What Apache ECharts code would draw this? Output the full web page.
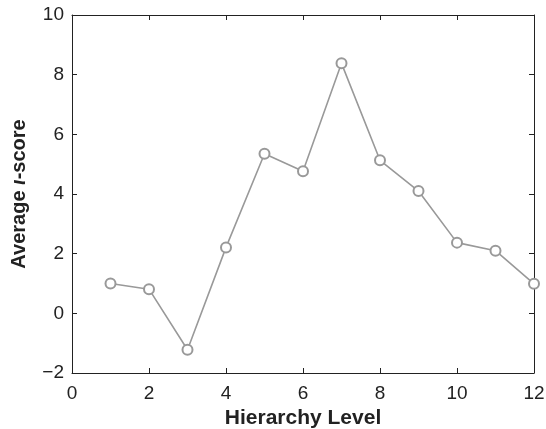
<!DOCTYPE html>
<html>
<head>
<meta charset="utf-8">
<script src="https://cdn.jsdelivr.net/npm/echarts@6/dist/echarts.min.js"></script>
<style>
  html, body { margin: 0; padding: 0; background: #fff; }
  #chart { width: 546px; height: 429px; }
</style>
</head>
<body>
<div id="chart"></div>
<script>
// hierarchy levels and average iota-score
const levels = [1, 2, 3, 4, 5, 6, 7, 8, 9, 10, 11, 12];
const scores = [1.0, 0.81, -1.22, 2.21, 5.35, 4.76, 8.38, 5.13, 4.1, 2.37, 2.1, 0.99];

const font = "'Liberation Sans', Arial, Helvetica, sans-serif";
const axisColor = "#222";

let myChart = echarts.init(document.getElementById("chart"));

function boxAxis(pos, range) {
  // mirrored axis: only line and inward ticks, no labels
  return {
    type: "value",
    position: pos,
    min: range[0],
    max: range[1],
    interval: 2,
    axisLine: { show: true, onZero: false, lineStyle: { color: axisColor, width: 1 } },
    axisTick: { show: true, inside: true, length: 5, lineStyle: { color: axisColor } },
    axisLabel: { show: false },
    splitLine: { show: false },
  };
}

let option = {
  animation: false,
  grid: { left: 72, right: 12, top: 15, bottom: 56, outerBoundsMode: "none", containLabel: false },
  xAxis: [
    {
      type: "value",
      min: 0,
      max: 12,
      interval: 2,
      name: "Hierarchy Level",
      nameLocation: "middle",
      nameGap: 32,
      nameTextStyle: { fontFamily: font, fontSize: 21, fontWeight: "bold", color: axisColor },
      axisLine: { show: true, onZero: false, lineStyle: { color: axisColor, width: 1 } },
      axisTick: { show: true, inside: true, length: 5, lineStyle: { color: axisColor } },
      axisLabel: { fontFamily: font, fontSize: 19, color: axisColor, margin: 11 },
      splitLine: { show: false },
    },
    boxAxis("top", [0, 12]),
  ],
  yAxis: [
    {
      type: "value",
      min: -2,
      max: 10,
      interval: 2,
      name: "Average {i|ι}-score",
      nameLocation: "middle",
      nameGap: 43,
      nameTextStyle: {
        fontFamily: font,
        fontSize: 20,
        fontWeight: "bold",
        color: axisColor,
        rich: {
          i: { fontFamily: font, fontSize: 20, fontWeight: "bold", fontStyle: "italic", color: axisColor },
        },
      },
      axisLine: { show: true, onZero: false, lineStyle: { color: axisColor, width: 1 } },
      axisTick: { show: true, inside: true, length: 5, lineStyle: { color: axisColor } },
      axisLabel: {
        fontFamily: font,
        fontSize: 19,
        color: axisColor,
        margin: 8,
        formatter: (v) => (v < 0 ? "\u2212" + Math.abs(v) : "" + v),
      },
      splitLine: { show: false },
    },
    boxAxis("right", [-2, 10]),
  ],
  series: [
    {
      type: "line",
      xAxisIndex: 0,
      yAxisIndex: 0,
      data: levels.map((l, i) => [l, scores[i]]),
      symbol: "emptyCircle",
      symbolSize: 10,
      lineStyle: { color: "#999", width: 1.6 },
      itemStyle: { color: "#999", borderWidth: 1.6 },
    },
  ],
};

myChart.setOption(option);
</script>
</body>
</html>
